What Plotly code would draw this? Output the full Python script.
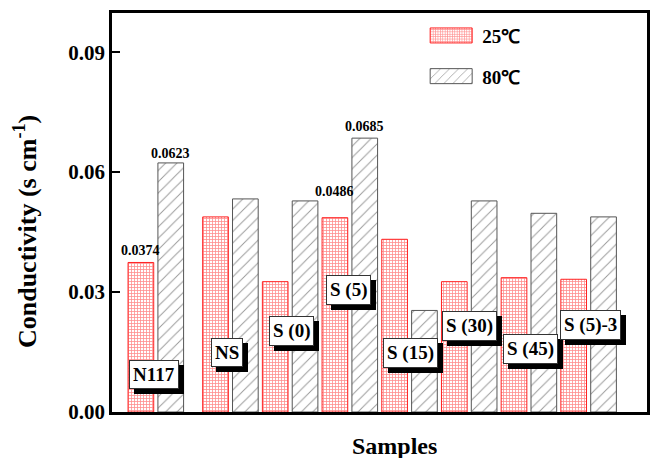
import plotly.graph_objects as go

# ---- data ----
samples = ["N117", "NS", "S (0)", "S (5)", "S (15)", "S (30)", "S (45)", "S (5)-3"]
cond_25 = [0.0374, 0.0488, 0.0326, 0.0486, 0.0432, 0.0326, 0.0336, 0.0332]
cond_80 = [0.0623, 0.0533, 0.0528, 0.0685, 0.0254, 0.0528, 0.0497, 0.0488]
series_names = ["25℃", "80℃"]
y_ticks = [0.00, 0.03, 0.06, 0.09]
y_tick_text = ["0.00", "0.03", "0.06", "0.09"]

# ---- layout helpers (positions, not data) ----
group_pos = [0, 1.25, 2.25, 3.25, 4.25, 5.25, 6.25, 7.25]
label_y = [0.0095, 0.0149, 0.0203, 0.0306, 0.0148, 0.0215, 0.0158, 0.0218]
label_dx = [-0.03, -0.06, 0.03, -0.02, 0.02, 0.01, 0.03, 0.04]
BW = 0.43
OFF25 = -0.46
OFF80 = 0.04

FONT = "Liberation Serif, Times New Roman, serif"

fig = go.Figure()
fig.add_trace(go.Bar(
    x=group_pos, y=cond_25, name=series_names[0], width=BW, offset=OFF25,
    marker=dict(color="white", line=dict(color="#ff2020", width=1),
                pattern=dict(shape="+", fgcolor="#ff1a1a", bgcolor="white",
                             size=3, solidity=0.45)),
    legendgroup="a",
))
fig.add_trace(go.Bar(
    x=group_pos, y=cond_80, name=series_names[1], width=BW, offset=OFF80,
    marker=dict(color="white", line=dict(color="#555555", width=1),
                pattern=dict(shape="/", fgcolor="#333333", bgcolor="white",
                             size=8, solidity=0.12)),
    legendgroup="b",
))

annotations = []
# value labels above selected bars
value_label_idx = [0, 3]
shifts = {(0, 0): 2, (0, 1): 0, (3, 0): 17, (3, 1): 2}
for i in value_label_idx:
    for s, (vals, off) in enumerate([(cond_25, OFF25), (cond_80, OFF80)]):
        annotations.append(dict(
            x=group_pos[i] + off + BW / 2, y=vals[i], xref="x", yref="y",
            text=f"<b>{vals[i]:.4f}</b>", showarrow=False, yanchor="bottom",
            yshift=shifts[(i, s)],
            font=dict(family=FONT, size=14, color="black"),
        ))

# sample name boxes with shadow
for i, name in enumerate(samples):
    common = dict(x=group_pos[i] + label_dx[i], y=label_y[i], xref="x", yref="y",
                  text=f"<b>{name}</b>", showarrow=False, borderpad=3)
    annotations.append(dict(common, bgcolor="black", bordercolor="black",
                            borderwidth=1, xshift=5, yshift=-5,
                            font=dict(family=FONT, size=19, color="black")))
    annotations.append(dict(common, bgcolor="white", bordercolor="#333333",
                            borderwidth=1,
                            font=dict(family=FONT, size=19, color="black")))

# axis titles
annotations.append(dict(x=-0.1626, y=0.451, xref="paper", yref="paper",
                        text="<b>Conductivity (s cm<sup>-1</sup>)</b>", textangle=-90,
                        showarrow=False, xanchor="center", yanchor="middle",
                        font=dict(family=FONT, size=26, color="black")))
annotations.append(dict(x=0.528, y=-0.0852, xref="paper", yref="paper",
                        text="<b>Samples</b>", showarrow=False, height=24,
                        borderpad=0, valign="middle",
                        xanchor="center", yanchor="middle",
                        font=dict(family=FONT, size=24, color="black")))

fig.update_layout(
    width=651, height=458,
    margin=dict(l=112, r=4, t=13, b=46),
    paper_bgcolor="white", plot_bgcolor="white",
    barmode="overlay",
    showlegend=True,
    legend=dict(x=0.576, y=0.991, xanchor="left", yanchor="top",
                bgcolor="rgba(0,0,0,0)", tracegroupgap=13, itemwidth=52,
                font=dict(family=FONT, size=19, color="black", weight="bold")),
    font=dict(family=FONT, color="black"),
    annotations=annotations,
    xaxis=dict(range=[-0.729, 8.233], showticklabels=False, ticks="",
               showgrid=False, zeroline=False, showline=True, linecolor="black",
               linewidth=2.5, mirror=True, automargin=False),
    yaxis=dict(range=[0, 0.0998], tickvals=y_ticks, ticktext=y_tick_text,
               ticks="inside", ticklen=8, tickwidth=2, tickcolor="black",
               showgrid=False, zeroline=False, showline=True, linecolor="black",
               linewidth=2.5, mirror=True, automargin=False,
               tickfont=dict(family=FONT, size=21, color="black", weight="bold")),
)

post = """
document.body.style.margin='0';
var gd = document.getElementById('{plot_id}');
gd.querySelectorAll('.legend .legendpoints path').forEach(function(p){
    p.setAttribute('d','M21,7.5H-21V-7.5H21Z');
});
"""

fig.write_html("out.html", post_script=post, config={"displayModeBar": False})
